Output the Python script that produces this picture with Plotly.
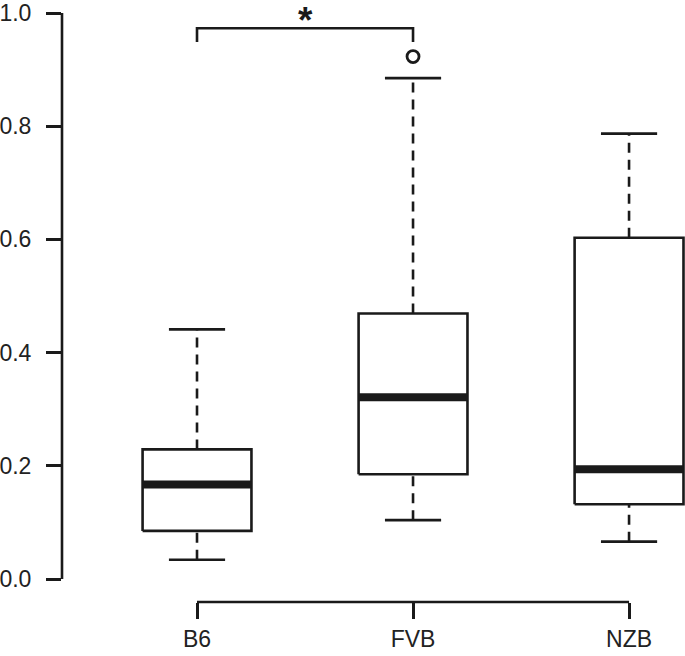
import plotly.graph_objects as go

# ---- data ----
categories = ["B6", "FVB", "NZB"]
lower_whisker = [0.034, 0.104, 0.066]
q1 = [0.085, 0.185, 0.132]
median = [0.167, 0.321, 0.194]
q3 = [0.229, 0.469, 0.603]
upper_whisker = [0.441, 0.885, 0.787]
outlier_cat = ["FVB"]
outlier_val = [0.923]
y_ticks = [0.0, 0.2, 0.4, 0.6, 0.8, 1.0]
sig_groups = ["B6", "FVB"]
sig_y = 0.973
sig_label = "*"

# ---- style ----
INK = "#1a1a1a"
LW = 2.6
BOX_HALF = 0.252
CAP_HALF = 0.13
SIG_DROP = 0.024
FONT = dict(family="Liberation Sans, Arial, sans-serif", size=23, color="#222222")

pos = {c: i + 1 for i, c in enumerate(categories)}

fig = go.Figure()

for i, c in enumerate(categories):
    x = pos[c]
    # dashed whiskers
    for a, b in ((q3[i], upper_whisker[i]), (lower_whisker[i], q1[i])):
        fig.add_trace(go.Scatter(x=[x, x], y=[a, b], mode="lines",
                                 line=dict(color=INK, width=LW, dash="10px,7px"),
                                 hoverinfo="skip", showlegend=False))
    # caps
    for v in (upper_whisker[i], lower_whisker[i]):
        fig.add_trace(go.Scatter(x=[x - CAP_HALF, x + CAP_HALF], y=[v, v], mode="lines",
                                 line=dict(color=INK, width=LW),
                                 hoverinfo="skip", showlegend=False))
    # box
    fig.add_trace(go.Scatter(
        x=[x - BOX_HALF, x + BOX_HALF, x + BOX_HALF, x - BOX_HALF, x - BOX_HALF],
        y=[q1[i], q1[i], q3[i], q3[i], q1[i]],
        mode="lines", fill="toself", fillcolor="white",
        line=dict(color=INK, width=LW), hoverinfo="skip", showlegend=False))
    # median
    fig.add_trace(go.Scatter(x=[x - BOX_HALF, x + BOX_HALF], y=[median[i], median[i]],
                             mode="lines", line=dict(color=INK, width=8),
                             hoverinfo="skip", showlegend=False))

# outliers
fig.add_trace(go.Scatter(x=[pos[c] for c in outlier_cat], y=outlier_val, mode="markers",
                         marker=dict(symbol="circle-open", size=12, color=INK,
                                     line=dict(width=2.8, color=INK)),
                         hoverinfo="skip", showlegend=False, cliponaxis=False))

# significance bracket
xa, xb = pos[sig_groups[0]], pos[sig_groups[1]]
fig.add_trace(go.Scatter(x=[xa, xa, xb, xb],
                         y=[sig_y - SIG_DROP, sig_y, sig_y, sig_y - SIG_DROP],
                         mode="lines", line=dict(color=INK, width=LW),
                         hoverinfo="skip", showlegend=False, cliponaxis=False))
fig.add_annotation(x=(xa + xb) / 2, xref="x", y=1, yref="paper", text="<b>" + sig_label + "</b>",
                   showarrow=False, yanchor="top", borderpad=0, yshift=1,
                   font=dict(family="Liberation Sans, Arial, sans-serif", size=37, color=INK))

# axis lines (R style: only between first and last tick)
fig.add_shape(type="line", xref="paper", yref="y", x0=0, x1=0,
              y0=y_ticks[0], y1=y_ticks[-1], line=dict(color=INK, width=LW))
fig.add_shape(type="line", xref="x", yref="paper", x0=1, x1=len(categories),
              y0=0, y1=0, line=dict(color=INK, width=LW))

fig.update_layout(
    width=685, height=656,
    margin=dict(l=62, r=0, t=0, b=54),
    plot_bgcolor="white", paper_bgcolor="white",
    font=FONT,
    xaxis=dict(range=[0.375, 3.259], tickmode="array",
               tickvals=[pos[c] for c in categories], ticktext=categories,
               ticks="outside", ticklen=16, tickwidth=LW, tickcolor=INK,
               showgrid=False, zeroline=False, showline=False, automargin=False,
               ticklabelstandoff=0, tickfont=FONT),
    yaxis=dict(range=[-0.0406, 1.023], tickmode="array", tickvals=y_ticks,
               ticktext=[f"{v:.1f}" for v in y_ticks],
               ticks="outside", ticklen=15, tickwidth=LW, tickcolor=INK,
               showgrid=False, zeroline=False, showline=False, automargin=False,
               ticklabelstandoff=10, tickfont=FONT),
)

fig.write_html("out.html", config={"displayModeBar": False},
               post_script="document.body.style.margin='0';document.body.style.overflow='hidden';")
